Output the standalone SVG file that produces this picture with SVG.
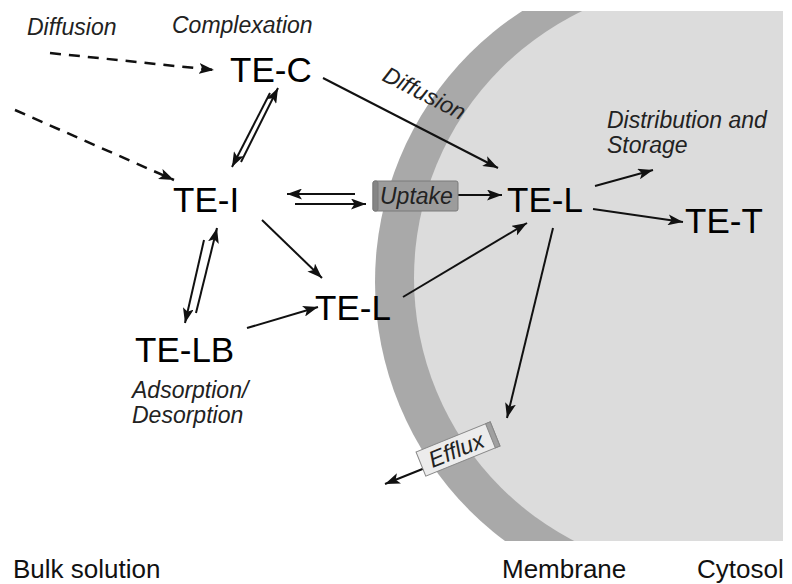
<svg xmlns="http://www.w3.org/2000/svg" width="792" height="584" viewBox="0 0 792 584">
<defs>
<marker id="ah" viewBox="0 0 15 11" refX="15" refY="5.5" markerWidth="15" markerHeight="11" markerUnits="userSpaceOnUse" orient="auto">
<path d="M0,0 L15,5.5 L0,11 L3.5,5.5 z" fill="#111"/>
</marker>
<clipPath id="cellclip"><rect x="0" y="11" width="783" height="530"/></clipPath>
</defs>
<style>
.node{font-family:"Liberation Sans",Arial,sans-serif;font-size:35px;fill:#000}
.lab{font-family:"Liberation Sans",Arial,sans-serif;font-size:23px;font-style:italic;fill:#222}
.reg{font-family:"Liberation Sans",Arial,sans-serif;font-size:26px;fill:#111}
.c{stroke:#111;stroke-width:2;fill:none;marker-end:url(#ah)}
.d{stroke-dasharray:11 8;stroke-width:2.5}
</style>
<rect width="792" height="584" fill="#fff"/>
<g id="cell" clip-path="url(#cellclip)">
<circle cx="698" cy="282" r="323" fill="#a9a9a9"/>
<circle cx="710" cy="278" r="296" fill="#dcdcdc"/>
</g>
<g id="connectors">
<line class="c d" x1="50" y1="53" x2="214" y2="70"/>
<line class="c d" x1="15" y1="110" x2="174" y2="180"/>
<line class="c" x1="241" y1="162" x2="278" y2="88"/>
<line class="c" x1="270" y1="93" x2="232" y2="167"/>
<line class="c" x1="355" y1="194" x2="287" y2="194"/>
<line class="c" x1="295" y1="204" x2="366" y2="204"/>
<line class="c" x1="196" y1="313" x2="217" y2="228"/>
<line class="c" x1="204" y1="240" x2="185" y2="323"/>
<line class="c" x1="262" y1="220" x2="322" y2="278"/>
<line class="c" x1="247" y1="328" x2="318" y2="307"/>
<line class="c" x1="403" y1="297" x2="527" y2="223"/>
<line class="c" x1="323" y1="78" x2="498" y2="168"/>
<line class="c" x1="458" y1="195" x2="502" y2="195"/>
<line class="c" x1="595" y1="186" x2="653" y2="170"/>
<line class="c" x1="593" y1="209" x2="683" y2="222"/>
<line class="c" x1="553" y1="228" x2="507" y2="418"/>
<line class="c" x1="425" y1="468" x2="385" y2="484"/>
</g>
<g id="labels">
<text class="lab" x="27" y="35">Diffusion</text>
<text class="lab" x="172" y="33">Complexation</text>
<text class="lab" x="381" y="80" transform="rotate(27 381 80)">Diffusion</text>
<text class="lab" x="607" y="128">Distribution and</text>
<text class="lab" x="607" y="153">Storage</text>
<text class="lab" x="132" y="398">Adsorption/</text>
<text class="lab" x="132" y="423">Desorption</text>
</g>
<g id="node-TE-C"><text class="node" x="230" y="82">TE-C</text></g>
<g id="node-TE-I"><text class="node" x="173" y="212">TE-I</text></g>
<g id="node-TE-L-bulk"><text class="node" x="315" y="320">TE-L</text></g>
<g id="node-TE-LB"><text class="node" x="135" y="362">TE-LB</text></g>
<g id="node-TE-L-cyt"><text class="node" x="507" y="212">TE-L</text></g>
<g id="node-TE-T"><text class="node" x="685" y="233">TE-T</text></g>
<g id="node-uptake">
<rect x="373" y="181" width="85" height="30" rx="2" fill="#9c9c9c" stroke="#7a7a7a" stroke-width="1"/>
<rect x="373" y="181" width="5" height="30" rx="2" fill="#858585" stroke="#7a7a7a" stroke-width="1"/>
<text class="lab" x="380" y="204" fill="#333">Uptake</text>
</g>
<g id="node-efflux" transform="rotate(-22 458 449)">
<rect x="418" y="436" width="80" height="26" fill="#ececec" stroke="#888" stroke-width="1"/>
<rect x="493" y="436" width="5" height="26" fill="#a0a0a0" stroke="#888" stroke-width="1"/>
<text class="lab" x="456" y="457" text-anchor="middle">Efflux</text>
</g>
<g id="regions">
<text class="reg" x="13" y="578">Bulk solution</text>
<text class="reg" x="502" y="578">Membrane</text>
<text class="reg" x="697" y="578">Cytosol</text>
</g>
</svg>
